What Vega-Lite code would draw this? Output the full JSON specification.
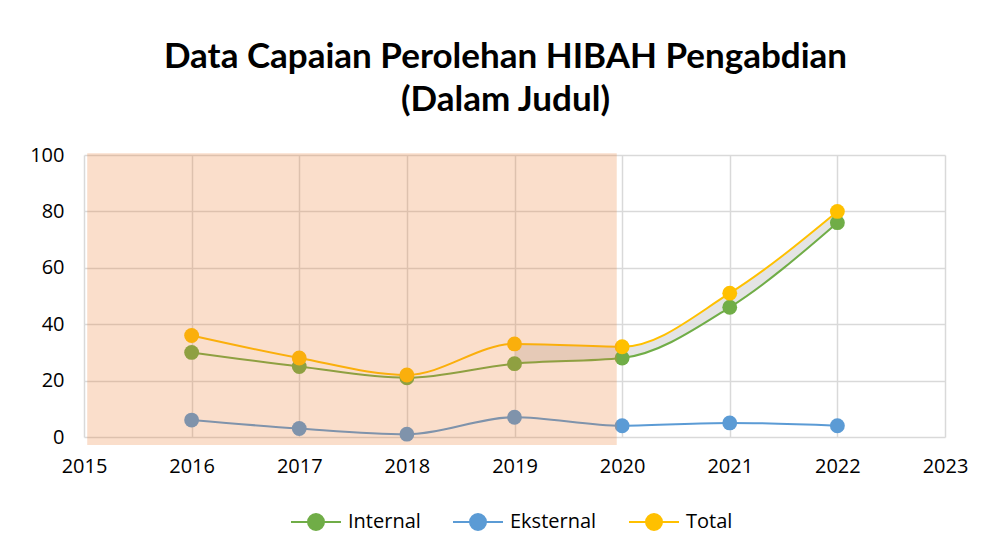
{
  "$schema": "https://vega.github.io/schema/vega-lite/v6.json",
  "autosize": {"type": "none"},
  "width": 861,
  "height": 282,
  "padding": {"left": 84, "top": 155, "right": 52, "bottom": 118},
  "background": "white",
  "title": {
    "text": ["Data Capaian Perolehan HIBAH  Pengabdian", "(Dalam Judul)"],
    "font": "Lato",
    "fontSize": 35,
    "fontWeight": "bold",
    "color": "#000000",
    "lineHeight": 43,
    "anchor": "middle",
    "dx": -9,
    "offset": 27
  },
  "datasets": {
    "wide": [
      {"year": 2016, "Internal": 30, "Eksternal": 6, "Total": 36},
      {"year": 2017, "Internal": 25, "Eksternal": 3, "Total": 28},
      {"year": 2018, "Internal": 21, "Eksternal": 1, "Total": 22},
      {"year": 2019, "Internal": 26, "Eksternal": 7, "Total": 33},
      {"year": 2020, "Internal": 28, "Eksternal": 4, "Total": 32},
      {"year": 2021, "Internal": 46, "Eksternal": 5, "Total": 51},
      {"year": 2022, "Internal": 76, "Eksternal": 4, "Total": 80}
    ],
    "band": [
      {"start": 2015.03, "end": 2019.95, "low": -2.8, "high": 100.6}
    ]
  },
  "config": {
    "view": {"stroke": null},
    "axis": {
      "labelFont": "Open Sans",
      "labelFontSize": 20,
      "labelColor": "#000000",
      "grid": true,
      "gridColor": "#D9D9D9",
      "gridWidth": 1.5,
      "domain": false,
      "ticks": false,
      "labelFlush": false,
      "title": null
    },
    "legend": {
      "labelFont": "Open Sans",
      "labelFontSize": 20,
      "labelColor": "#000000"
    }
  },
  "layer": [
    {
      "data": {"name": "wide"},
      "transform": [{"filter": "datum.year >= 2019"}],
      "mark": {"type": "area", "interpolate": "monotone", "color": "#D9D9D9", "opacity": 0.7},
      "encoding": {
        "x": {"field": "year", "type": "quantitative", "scale": {"domain": [2015, 2023], "nice": false},
              "axis": {"values": [2015, 2016, 2017, 2018, 2019, 2020, 2021, 2022, 2023], "format": "d", "labelPadding": 19}},
        "y": {"field": "Internal", "type": "quantitative", "scale": {"domain": [0, 100], "nice": false},
              "axis": {"values": [0, 20, 40, 60, 80, 100], "labelPadding": 20}},
        "y2": {"field": "Total"}
      }
    },
    {
      "data": {"name": "wide"},
      "transform": [{"fold": ["Internal", "Eksternal", "Total"], "as": ["series", "value"]}],
      "mark": {"type": "line", "interpolate": "monotone", "strokeWidth": 2},
      "encoding": {
        "x": {"field": "year", "type": "quantitative"},
        "y": {"field": "value", "type": "quantitative"},
        "color": {
          "field": "series", "type": "nominal",
          "scale": {"domain": ["Internal", "Eksternal", "Total"], "range": ["#70AD47", "#5B9BD5", "#FFC000"]},
          "legend": {
            "orient": "none",
            "legendX": 206,
            "legendY": 341,
            "direction": "horizontal",
            "title": null,
            "symbolType": "M-1,0L-0.3,0M0.3,0L1,0M-0.32,0A0.32,0.32,0,1,1,0.32,0A0.32,0.32,0,1,1,-0.32,0",
            "symbolSize": 2500,
            "symbolStrokeWidth": 2,
            "labelOffset": 6,
            "columnPadding": 28
          }
        }
      }
    },
    {
      "data": {"name": "wide"},
      "transform": [{"fold": ["Internal", "Eksternal", "Total"], "as": ["series", "value"]}],
      "mark": {"type": "point", "filled": true, "size": 220, "opacity": 1},
      "encoding": {
        "x": {"field": "year", "type": "quantitative"},
        "y": {"field": "value", "type": "quantitative"},
        "color": {"field": "series", "type": "nominal", "legend": null}
      }
    },
    {
      "data": {"name": "band"},
      "mark": {"type": "rect", "color": "#ED7D31", "opacity": 0.25, "clip": false},
      "encoding": {
        "x": {"field": "start", "type": "quantitative"},
        "x2": {"field": "end"},
        "y": {"field": "low", "type": "quantitative"},
        "y2": {"field": "high"}
      }
    }
  ]
}
